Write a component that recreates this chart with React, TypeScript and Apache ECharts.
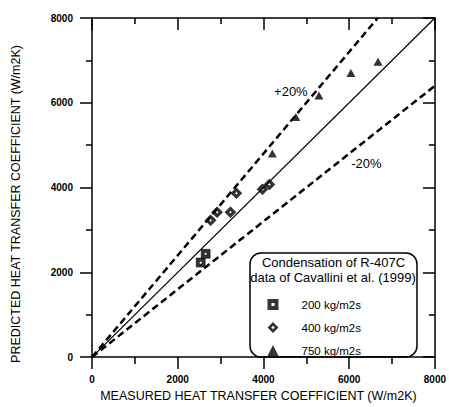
import React, { useEffect, useRef } from "react";
import * as echarts from "echarts";

// ---- data ----
const axisTicks = [0, 2000, 4000, 6000, 8000];
const seriesNames = ["200 kg/m2s", "400 kg/m2s", "750 kg/m2s"];
const g200 = [
  [2536, 2229],
  [2652, 2437],
];
const g400 = [
  [2768, 3227],
  [2920, 3419],
  [3230, 3419],
  [3369, 3866],
  [3977, 3958],
  [4139, 4073],
];
const g750 = [
  [4208, 4802],
  [4756, 5664],
  [5295, 6171],
  [6042, 6701],
  [6674, 6969],
];
const parityLine = [
  [0, 0],
  [8000, 8000],
];
const plus20Line = [
  [0, 0],
  [6666.7, 8000],
];
const minus20Line = [
  [0, 0],
  [8000, 6400],
];
const plusLabelAt = [4640, 6270];
const minusLabelAt = [6400, 4560];
const xTitle = "MEASURED HEAT TRANSFER COEFFICIENT (W/m2K)";
const yTitle = "PREDICTED HEAT TRANSFER COEFFICIENT (W/m2K)";
const legendTitle = ["Condensation of R-407C", "data of Cavallini et al. (1999)"];

const FONT = "'Liberation Sans', Arial, Helvetica, sans-serif";
const SQ = "path://M0,0H10V10H0Z M3.6,3.6V6.4H6.4V3.6Z";
const DIA = "path://M5,0L10,5L5,10L0,5Z M5,3.5L3.5,5L5,6.5L6.5,5Z";

export default function App() {
  const ref = useRef<HTMLDivElement>(null);
  useEffect(() => {
    if (!ref.current) return;
    const chart = echarts.init(ref.current, null, { renderer: "svg" });
    const axMin = axisTicks[0];
    const axMax = axisTicks[axisTicks.length - 1];
    const step = axisTicks[1] - axisTicks[0];
    const lineStyleAx = { color: "#000", width: 1.5 };
    const baseAxis = (extra: any) => ({
      type: "value",
      min: axMin,
      max: axMax,
      interval: step,
      splitLine: { show: false },
      axisLine: { show: true, onZero: false, lineStyle: lineStyleAx },
      ...extra,
    });
    const tickLabel = {
      show: true,
      color: "#000",
      fontFamily: FONT,
      fontWeight: "bold",
      fontSize: 10,
      formatter: (v: number) => String(v),
    };
    chart.setOption({
      animation: false,
      backgroundColor: "#fff",
      grid: { left: 92, right: 11, top: 18, bottom: 42, containLabel: false },
      xAxis: [
        baseAxis({
          position: "bottom",
          axisTick: { show: true, inside: false, length: 12, lineStyle: lineStyleAx },
          minorTick: { show: true, splitNumber: 2, length: 7, lineStyle: lineStyleAx },
          axisLabel: { ...tickLabel, margin: 17 },
          name: xTitle,
          nameLocation: "middle",
          nameGap: 26,
          nameTextStyle: {
            color: "#000",
            fontFamily: FONT,
            fontSize: 12.5,
            padding: [0, 10, 0, 0],
          },
        }),
        baseAxis({
          position: "top",
          axisTick: { show: true, inside: true, length: 12, lineStyle: lineStyleAx },
          minorTick: { show: true, splitNumber: 2, length: 6, lineStyle: lineStyleAx },
          axisLabel: { show: false },
        }),
      ],
      yAxis: [
        baseAxis({
          position: "left",
          axisTick: { show: true, inside: false, length: 12, lineStyle: lineStyleAx },
          minorTick: { show: true, splitNumber: 2, length: 6, lineStyle: lineStyleAx },
          axisLabel: { ...tickLabel, margin: 19 },
        }),
        baseAxis({
          position: "right",
          axisTick: { show: true, inside: true, length: 12, lineStyle: lineStyleAx },
          minorTick: { show: true, splitNumber: 2, length: 6, lineStyle: lineStyleAx },
          axisLabel: { show: false },
        }),
      ],
      legend: {
        orient: "vertical",
        left: 267.5,
        top: 298.5,
        itemWidth: 11,
        itemHeight: 11,
        itemGap: 11,
        padding: 0,
        data: [
          { name: seriesNames[0], icon: SQ, itemStyle: { borderWidth: 0 } },
          { name: seriesNames[1], icon: DIA, itemStyle: { borderWidth: 0 } },
          { name: seriesNames[2], icon: "triangle" },
        ],
        textStyle: {
          color: "#000",
          fontFamily: FONT,
          fontSize: 11.5,
          padding: [0, 0, 0, 18],
        },
        selectedMode: false,
      },
      graphic: [
        {
          type: "rect",
          shape: { x: 250, y: 253, width: 167, height: 104, r: 11 },
          style: { fill: "rgba(0,0,0,0)", stroke: "#000", lineWidth: 1.5 },
          z: 1,
        },
        {
          type: "text",
          x: 333.5,
          y: 262,
          style: {
            text: legendTitle[0],
            font: `13px ${FONT}`,
            fill: "#000",
            align: "center",
            verticalAlign: "middle",
            textAlign: "center",
            textVerticalAlign: "middle",
          },
          z: 2,
        },
        {
          type: "text",
          x: 333,
          y: 277,
          style: {
            text: legendTitle[1],
            font: `13px ${FONT}`,
            fill: "#000",
            align: "center",
            verticalAlign: "middle",
            textAlign: "center",
            textVerticalAlign: "middle",
          },
          z: 2,
        },
        {
          type: "text",
          x: 16,
          y: 204,
          rotation: Math.PI / 2,
          style: {
            text: yTitle,
            font: `12.5px ${FONT}`,
            fill: "#000",
            align: "center",
            verticalAlign: "middle",
            textAlign: "center",
            textVerticalAlign: "middle",
          },
        },
      ],
      series: [
        {
          type: "line",
          name: "parity",
          data: parityLine,
          showSymbol: false,
          symbol: "none",
          lineStyle: { color: "#000", width: 1.2 },
          silent: true,
          z: 2,
        },
        {
          type: "line",
          name: "+20%",
          data: plus20Line,
          showSymbol: false,
          symbol: "none",
          lineStyle: { color: "#000", width: 2.5, type: [7, 4] },
          silent: true,
          z: 2,
          markPoint: {
            symbol: "circle",
            symbolSize: 0,
            data: [{ coord: plusLabelAt, value: "+20%" }],
            label: {
              show: true,
              position: "inside",
              formatter: "+20%",
              color: "#000",
              fontFamily: FONT,
              fontSize: 13,
            },
          },
        },
        {
          type: "line",
          name: "-20%",
          data: minus20Line,
          showSymbol: false,
          symbol: "none",
          lineStyle: { color: "#000", width: 2.5, type: [7, 4] },
          silent: true,
          z: 2,
          markPoint: {
            symbol: "circle",
            symbolSize: 0,
            data: [{ coord: minusLabelAt, value: "-20%" }],
            label: {
              show: true,
              position: "inside",
              formatter: "-20%",
              color: "#000",
              fontFamily: FONT,
              fontSize: 13,
            },
          },
        },
        {
          type: "scatter",
          name: seriesNames[0],
          data: g200,
          symbol: SQ,
          symbolSize: 9,
          itemStyle: { color: "#000", borderColor: "#000", borderWidth: 0.6 },
          z: 3,
        },
        {
          type: "scatter",
          name: seriesNames[1],
          data: g400,
          symbol: DIA,
          symbolSize: 11,
          itemStyle: { color: "#000", borderColor: "#000", borderWidth: 0.6 },
          z: 3,
        },
        {
          type: "scatter",
          name: seriesNames[2],
          data: g750,
          symbol: "triangle",
          symbolSize: [9, 8],
          itemStyle: { color: "#000" },
          z: 3,
        },
      ],
    });
    return () => chart.dispose();
  }, []);
  return (
    <div
      ref={ref}
      style={{ position: "fixed", left: 0, top: 0, width: 449, height: 407, background: "#fff" }}
    />
  );
}
